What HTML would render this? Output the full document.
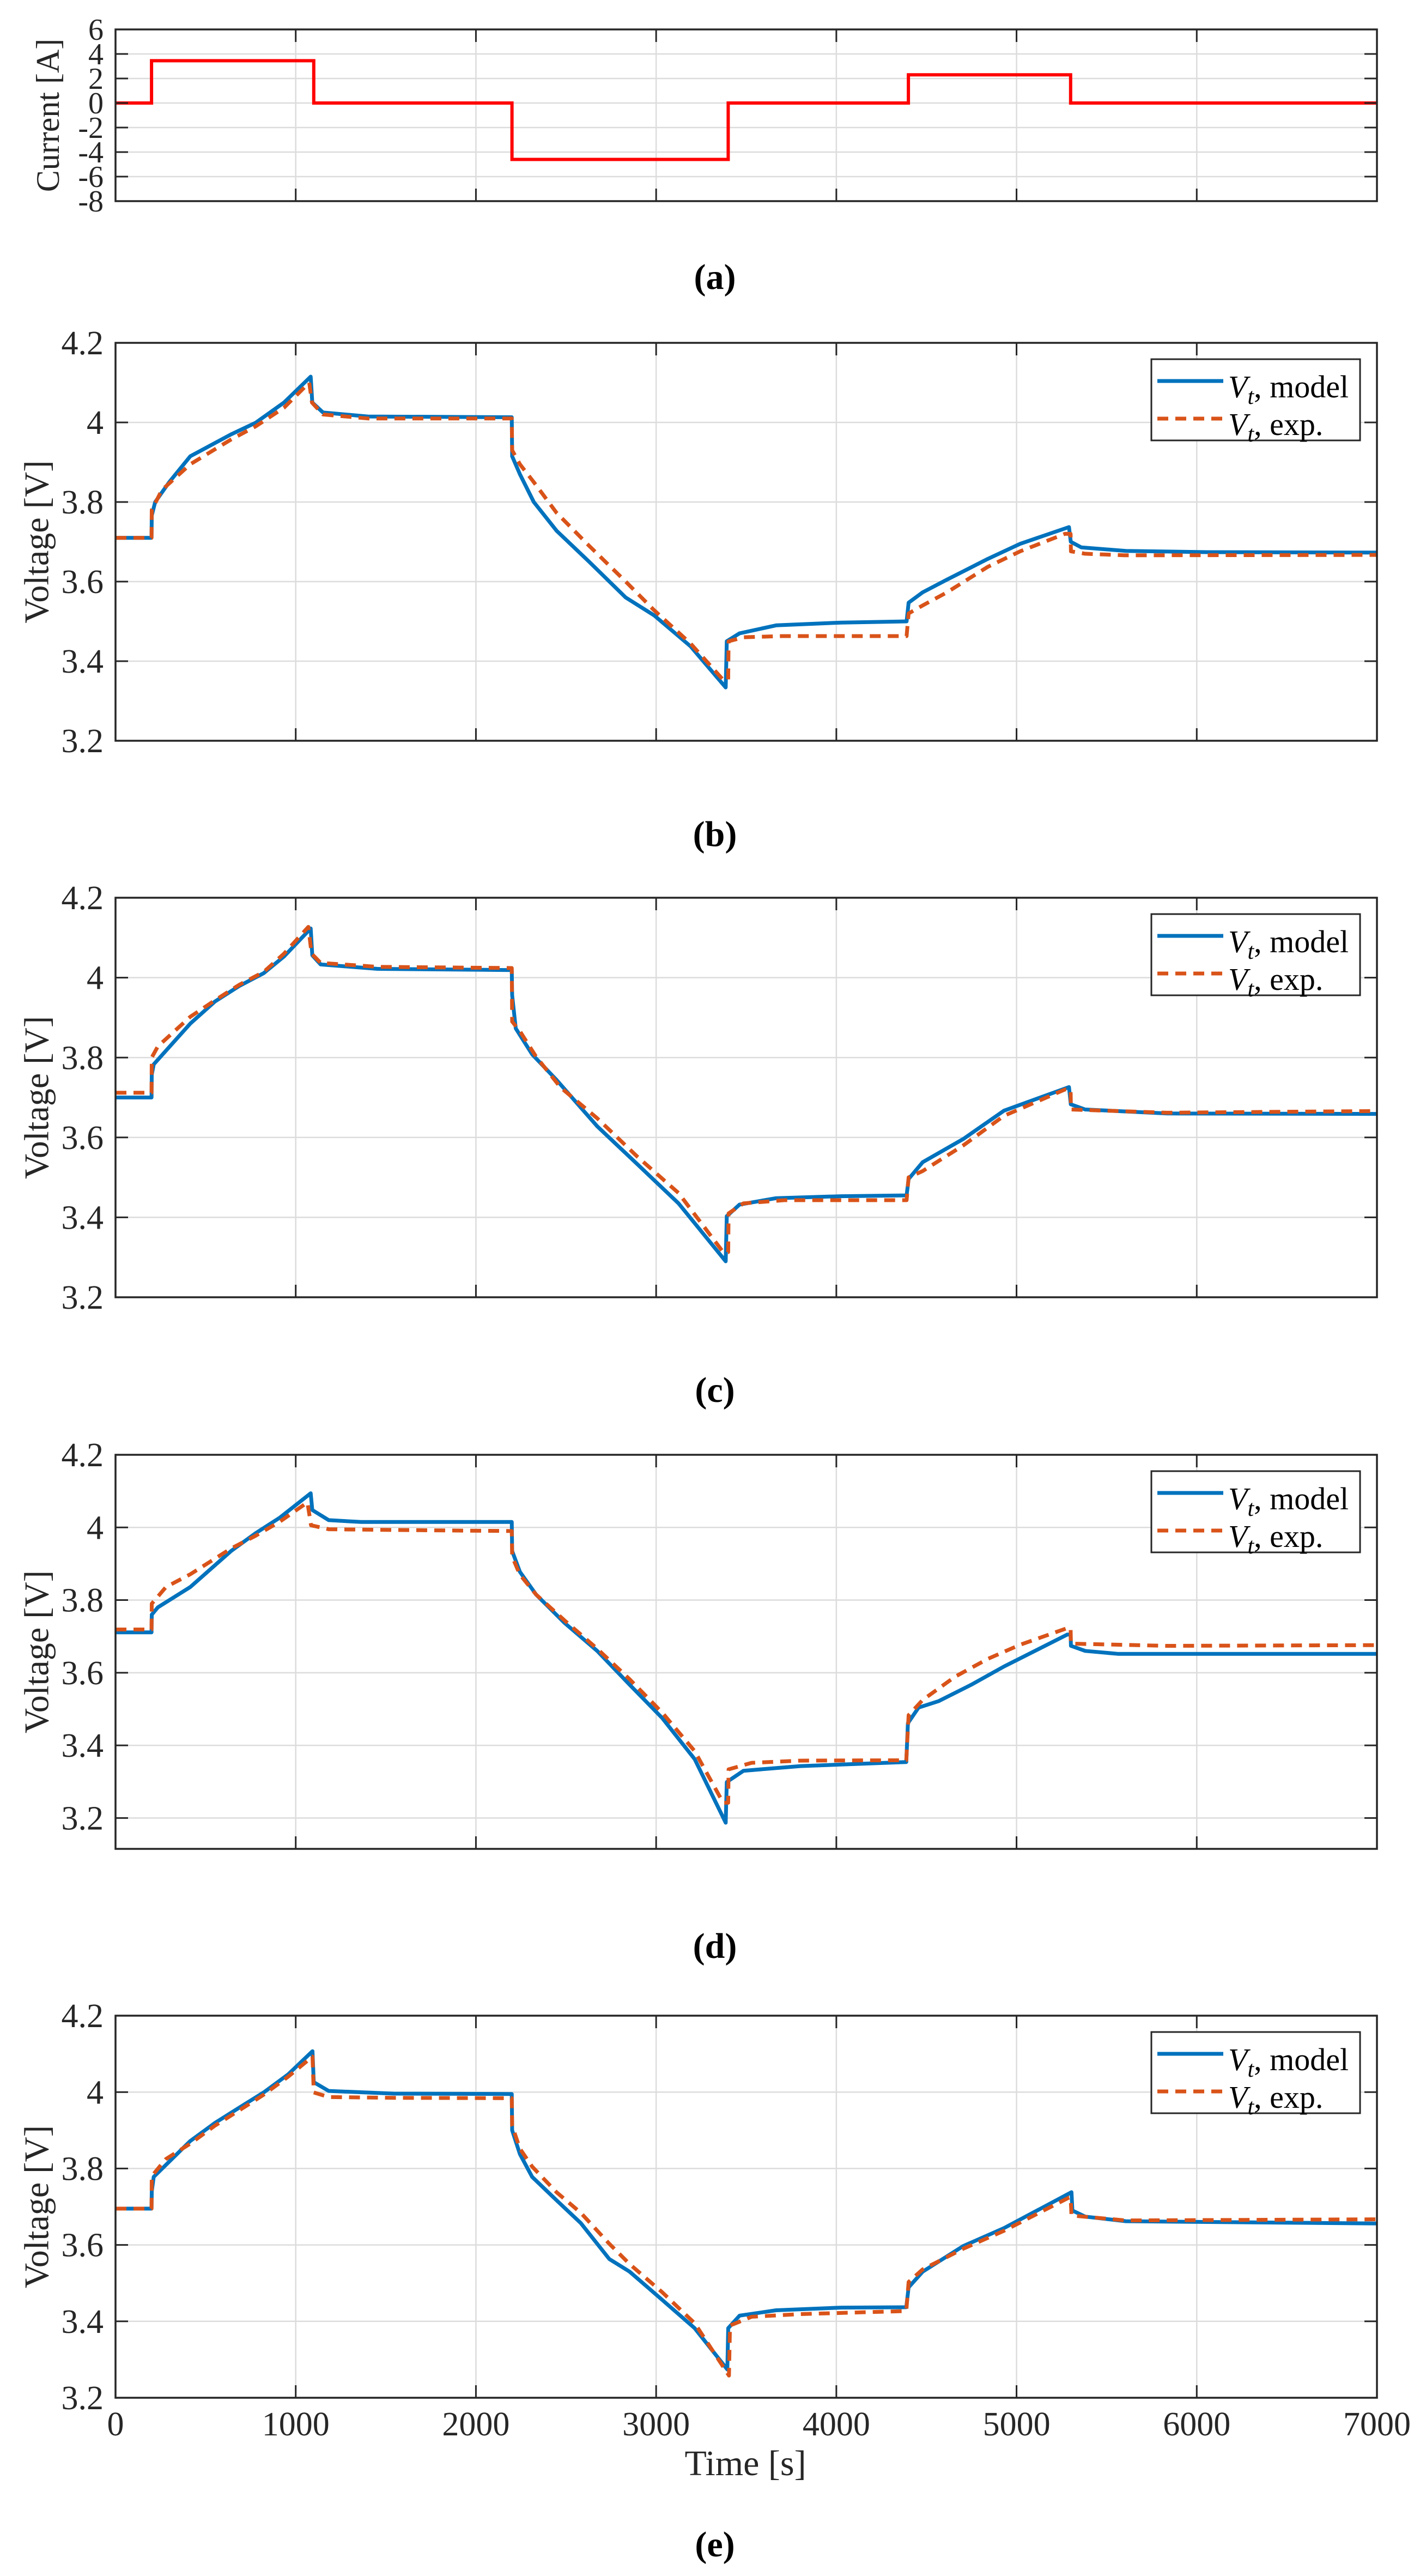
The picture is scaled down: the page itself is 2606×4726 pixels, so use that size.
<!DOCTYPE html>
<html>
<head>
<meta charset="utf-8">
<style>
  html,body{margin:0;padding:0;background:#fff;}
  svg{display:block;}
  text{font-family:"Liberation Serif","DejaVu Serif",serif;fill:#262626;}
</style>
</head>
<body>
<svg id="fig" xmlns="http://www.w3.org/2000/svg" width="2606" height="4726" viewBox="0 0 2606 4726">
  <rect x="0" y="0" width="2606" height="4726" fill="#fff"/>
</svg>
<script>
// ---------- data ----------
const timeTicks = [0,1000,2000,3000,4000,5000,6000,7000];
const currentTicks = [-8,-6,-4,-2,0,2,4,6];
const voltageTicks = [3.2,3.4,3.6,3.8,4,4.2];
const currentStepTimes = [0,200,1100,2200,3400,4400,5300,7000];
const currentStepValues = [0,3.45,0,-4.6,0,2.3,0];

const bModel = [[0,3.71],[200,3.71],[201,3.766],[220,3.80],[298,3.85],[415,3.915],[641,3.97],[777,3.999],[935,4.05],[1083,4.115],[1092,4.05],[1151,4.025],[1400,4.015],[2199,4.013],[2201,3.915],[2244,3.87],[2321,3.80],[2447,3.728],[2628,3.65],[2831,3.56],[2989,3.515],[3192,3.437],[3386,3.334],[3392,3.45],[3463,3.47],[3666,3.49],[4027,3.497],[4390,3.50],[4401,3.547],[4479,3.573],[4614,3.605],[4840,3.657],[5020,3.695],[5291,3.737],[5301,3.70],[5359,3.686],[5607,3.677],[6059,3.674],[7000,3.673]];
const bExp = [[0,3.71],[200,3.71],[201,3.78],[257,3.83],[415,3.895],[641,3.957],[777,3.99],[935,4.037],[1075,4.10],[1090,4.05],[1151,4.02],[1400,4.01],[2199,4.01],[2201,3.93],[2244,3.895],[2321,3.85],[2447,3.773],[2628,3.69],[2831,3.60],[2989,3.528],[3192,3.444],[3372,3.353],[3400,3.353],[3402,3.45],[3485,3.46],[3700,3.463],[4390,3.463],[4401,3.52],[4479,3.54],[4614,3.573],[4840,3.637],[5020,3.676],[5269,3.72],[5300,3.72],[5302,3.676],[5381,3.67],[5600,3.666],[7000,3.667]];
const cModel = [[0,3.70],[200,3.70],[201,3.757],[212,3.783],[415,3.885],[551,3.94],[686,3.979],[822,4.011],[935,4.053],[1083,4.123],[1092,4.056],[1138,4.033],[1454,4.022],[2199,4.019],[2201,3.956],[2221,3.873],[2312,3.808],[2447,3.744],[2673,3.628],[2898,3.532],[3124,3.435],[3386,3.29],[3392,3.403],[3463,3.432],[3666,3.448],[4027,3.453],[4390,3.455],[4401,3.496],[4479,3.538],[4704,3.596],[4930,3.667],[5291,3.726],[5301,3.683],[5381,3.67],[5833,3.66],[7000,3.659]];
const cExp = [[0,3.712],[200,3.712],[201,3.80],[235,3.828],[415,3.902],[551,3.943],[686,3.982],[822,4.014],[935,4.06],[1070,4.127],[1088,4.06],[1138,4.037],[1454,4.027],[2199,4.024],[2201,3.89],[2244,3.866],[2334,3.802],[2470,3.725],[2673,3.648],[2898,3.551],[3124,3.461],[3372,3.313],[3400,3.313],[3402,3.41],[3485,3.435],[3711,3.443],[4390,3.443],[4401,3.50],[4479,3.516],[4704,3.58],[4930,3.654],[5269,3.72],[5300,3.72],[5302,3.67],[5833,3.662],[7000,3.666]];
const dModel = [[0,3.711],[200,3.711],[201,3.76],[235,3.78],[415,3.836],[641,3.935],[777,3.984],[912,4.027],[1083,4.094],[1092,4.048],[1183,4.02],[1363,4.015],[2199,4.015],[2201,3.935],[2244,3.878],[2334,3.815],[2492,3.737],[2673,3.66],[2853,3.567],[3034,3.475],[3214,3.362],[3386,3.187],[3392,3.299],[3485,3.33],[3801,3.343],[4388,3.354],[4397,3.461],[4456,3.504],[4569,3.522],[4749,3.567],[4930,3.617],[5282,3.705],[5300,3.705],[5302,3.674],[5381,3.66],[5562,3.652],[7000,3.652]];
const dExp = [[0,3.719],[200,3.719],[201,3.79],[280,3.836],[415,3.871],[641,3.942],[777,3.977],[912,4.016],[1065,4.069],[1085,4.006],[1183,3.995],[1544,3.993],[2199,3.99],[2201,3.92],[2244,3.87],[2334,3.815],[2492,3.744],[2673,3.666],[2853,3.582],[3034,3.49],[3214,3.384],[3372,3.242],[3400,3.242],[3402,3.334],[3530,3.352],[3801,3.358],[4388,3.359],[4401,3.483],[4479,3.525],[4659,3.589],[4840,3.638],[5020,3.677],[5282,3.723],[5300,3.723],[5302,3.68],[5833,3.674],[7000,3.676]];
const eModel = [[0,3.695],[200,3.695],[201,3.74],[212,3.778],[415,3.872],[551,3.919],[686,3.959],[822,3.999],[957,4.046],[1093,4.107],[1100,4.026],[1183,4.003],[1544,3.996],[2199,3.995],[2201,3.90],[2244,3.838],[2312,3.778],[2447,3.717],[2582,3.657],[2740,3.563],[2853,3.53],[3034,3.456],[3214,3.382],[3395,3.274],[3400,3.382],[3463,3.415],[3666,3.429],[4027,3.436],[4388,3.437],[4401,3.489],[4479,3.53],[4704,3.597],[4930,3.644],[5305,3.738],[5310,3.69],[5381,3.674],[5607,3.662],[7000,3.656]];
const eExp = [[0,3.695],[200,3.695],[201,3.78],[280,3.825],[415,3.865],[551,3.912],[686,3.952],[822,3.993],[957,4.04],[1093,4.093],[1100,3.999],[1183,3.987],[1544,3.985],[2199,3.984],[2201,3.912],[2244,3.852],[2312,3.805],[2447,3.738],[2582,3.684],[2740,3.603],[2853,3.55],[3034,3.476],[3214,3.395],[3404,3.258],[3410,3.389],[3530,3.412],[3801,3.419],[4388,3.427],[4401,3.503],[4479,3.536],[4704,3.59],[4930,3.637],[5291,3.724],[5300,3.724],[5305,3.677],[5607,3.664],[7000,3.667]];

// ---------- layout ----------
const NS = "http://www.w3.org/2000/svg";
const svg = document.getElementById("fig");
const X0 = 212, X1 = 2527, TMIN = 0, TMAX = 7000;
const xScale = t => X0 + (t - TMIN) / (TMAX - TMIN) * (X1 - X0);
const AXC = "#262626", GRID = "#dcdcdc", BLUE = "#0072BD", ORANGE = "#D95319";

function mk(tag, attrs, parent) {
  const el = document.createElementNS(NS, tag);
  for (const k in attrs) el.setAttribute(k, attrs[k]);
  (parent || svg).appendChild(el);
  return el;
}

function drawAxes(g, top, bottom, yScale, yTicks, key) {
  for (const t of timeTicks) {
    if (t === TMIN || t === TMAX) continue;
    const gl = mk("line", {x1: xScale(t), x2: xScale(t), y1: top, y2: bottom, stroke: GRID, "stroke-width": 2.5}, g);
    
    
  }
  for (const v of yTicks) {
    const y = yScale(v);
    if (Math.abs(y - top) < 2 || Math.abs(y - bottom) < 2) continue;
    const gl = mk("line", {x1: X0, x2: X1, y1: y, y2: y, stroke: GRID, "stroke-width": 2.5}, g);
    
    
  }
}

function drawFrame(g, top, bottom, yScale, yTicks, tickFont, showX, key) {
  const frame = mk("rect", {x: X0, y: top, width: X1 - X0, height: bottom - top, fill: "none", stroke: AXC, "stroke-width": 3.5}, g);
  
  
  const TL = 23;
  for (const t of timeTicks) {
    const x = xScale(t);
    const tk1 = mk("line", {x1: x, x2: x, y1: bottom, y2: bottom - TL, stroke: AXC, "stroke-width": 3}, g);
    
    
    const tk2 = mk("line", {x1: x, x2: x, y1: top, y2: top + TL, stroke: AXC, "stroke-width": 3}, g);
    
    
    if (showX) {
      const lb = mk("text", {x: x, y: 4468, "font-size": 62, "text-anchor": "middle"}, g);
      lb.textContent = String(t);
      
      
    }
  }
  for (const v of yTicks) {
    const y = yScale(v);
    const tk1 = mk("line", {x1: X0, x2: X0 + TL, y1: y, y2: y, stroke: AXC, "stroke-width": 3}, g);
    
    
    const tk2 = mk("line", {x1: X1, x2: X1 - TL, y1: y, y2: y, stroke: AXC, "stroke-width": 3}, g);
    
    
    const lb = mk("text", {x: 190, y: y + tickFont * 0.34, "font-size": tickFont, "text-anchor": "end"}, g);
    lb.textContent = String(v);
    
    
  }
}

function polyPts(data, yScale) {
  return data.map(p => xScale(p[0]).toFixed(1) + "," + yScale(p[1]).toFixed(1)).join(" ");
}

function yLabel(g, text, cx, cy, size, key) {
  const t = mk("text", {x: cx, y: cy, "font-size": size, "text-anchor": "middle", transform: "rotate(-90 " + cx + " " + cy + ")", "dominant-baseline": "middle"}, g);
  t.textContent = text;
  
  
}

function panelLabel(text, y, key) {
  const t = mk("text", {x: 1312, y: y, "font-size": 66, "font-weight": "bold", "text-anchor": "middle"});
  t.style.fill = "#000";
  t.textContent = text;
  
  
}

function legend(g, top, key) {
  const lg = mk("g", {}, g);
  
  
  const bx = mk("rect", {x: 2113, y: top + 30, width: 383, height: 149, fill: "#fff", stroke: AXC, "stroke-width": 3}, lg);
  
  
  const rows = [[BLUE, null, "model", top + 100], [ORANGE, "20 13", "exp.", top + 169]];
  for (const r of rows) {
    const ln = mk("line", {x1: 2124, x2: 2245, y1: r[3] - 30, y2: r[3] - 30, stroke: r[0], "stroke-width": 7}, lg);
    if (r[1]) ln.setAttribute("stroke-dasharray", r[1]);
    
    
    const tx = mk("text", {x: 2254, y: r[3], "font-size": 58}, lg);
    tx.style.fill = "#000";
    
    
    const a = mk("tspan", {"font-style": "italic"}, tx); a.textContent = "V";
    const b = mk("tspan", {"font-style": "italic", "font-size": 42, dy: 12}, tx); b.textContent = "t";
    const c = mk("tspan", {dy: -12}, tx); c.textContent = ", " + r[2];
  }
}

// ---------- panel (a): current ----------
(function () {
  const top = 54, bottom = 369, ymin = -8, ymax = 6;
  const yS = v => bottom - (v - ymin) / (ymax - ymin) * (bottom - top);
  const g = mk("g", {});
  
  
  drawAxes(g, top, bottom, yS, currentTicks, 'current');
  const pts = [];
  for (let i = 0; i < currentStepValues.length; i++) {
    pts.push([currentStepTimes[i], currentStepValues[i]]);
    pts.push([currentStepTimes[i + 1], currentStepValues[i]]);
  }
  const line = mk("polyline", {points: polyPts(pts, yS), fill: "none", stroke: "#FF0000", "stroke-width": 6, "stroke-linejoin": "miter"}, g);
  
  
  drawFrame(g, top, bottom, yS, currentTicks, 56, false, 'current');
  yLabel(g, "Current [A]", 94, (top + bottom) / 2, 60, 'current');
  panelLabel("(a)", 530, 'panel-a');
})();

// ---------- voltage panels ----------
const panels = [
  {key: 'panel-b', top: 629, bottom: 1359, ymin: 3.2, model: bModel, exp: bExp, cap: "(b)", capY: 1552},
  {key: 'panel-c', top: 1647, bottom: 2380, ymin: 3.2, model: cModel, exp: cExp, cap: "(c)", capY: 2572},
  {key: 'panel-d', top: 2669, bottom: 3392, ymin: 3.115, model: dModel, exp: dExp, cap: "(d)", capY: 3592},
  {key: 'panel-e', top: 3698, bottom: 4399, ymin: 3.2, model: eModel, exp: eExp, cap: "(e)", capY: 4690}
];
panels.forEach((p, i) => {
  const ymax = 4.2;
  const yS = v => p.bottom - (v - p.ymin) / (ymax - p.ymin) * (p.bottom - p.top);
  const g = mk("g", {});
  
  
  const showX = i === panels.length - 1;
  drawAxes(g, p.top, p.bottom, yS, voltageTicks, p.key);
  const clipId = "clip" + i;
  const cp = mk("clipPath", {id: clipId}, g);
  mk("rect", {x: X0, y: p.top, width: X1 - X0, height: p.bottom - p.top}, cp);
  const m = mk("polyline", {points: polyPts(p.model, yS), fill: "none", stroke: BLUE, "stroke-width": 7, "stroke-linejoin": "round", "clip-path": "url(#" + clipId + ")"}, g);
  
  
  const e = mk("polyline", {points: polyPts(p.exp, yS), fill: "none", stroke: ORANGE, "stroke-width": 7, "stroke-dasharray": "20 13", "stroke-linejoin": "round", "clip-path": "url(#" + clipId + ")"}, g);
  
  
  drawFrame(g, p.top, p.bottom, yS, voltageTicks, 62, showX, p.key);
  legend(g, p.top, p.key);
  yLabel(g, "Voltage [V]", 74, (p.top + p.bottom) / 2, 64, p.key);
  panelLabel(p.cap, p.capY, p.key);
});

// x-axis title
const xt = mk("text", {x: 1368, y: 4541, "font-size": 66, "text-anchor": "middle"});
xt.textContent = "Time [s]";


</script>
</body>
</html>
